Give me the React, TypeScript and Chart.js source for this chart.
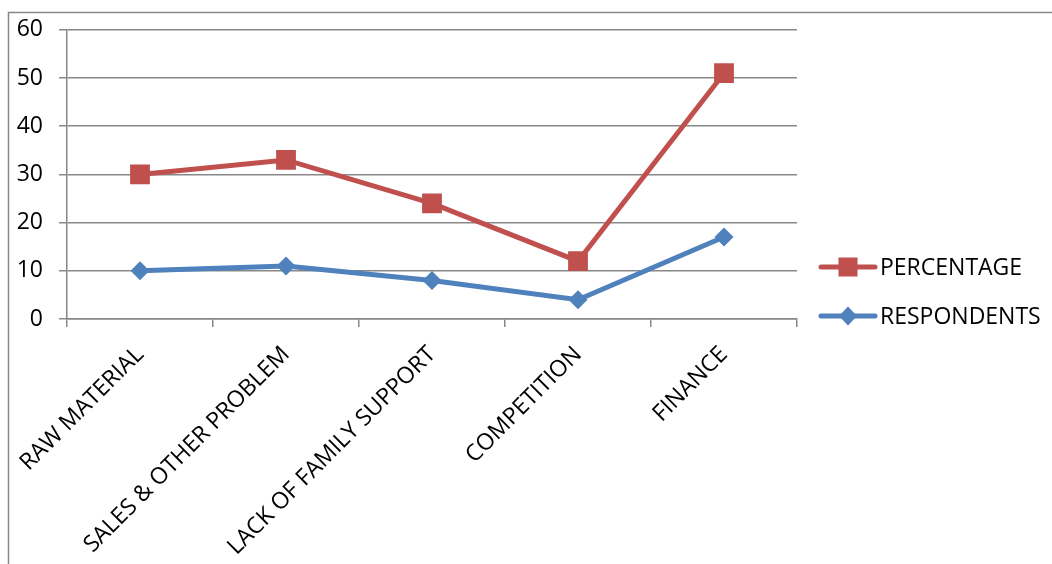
import React, { useEffect, useRef } from "react";
import { Chart, registerables } from "chart.js";

Chart.register(...registerables);

const categories = [
  "RAW MATERIAL",
  "SALES & OTHER PROBLEM",
  "LACK OF FAMILY SUPPORT",
  "COMPETITION",
  "FINANCE",
];
const percentage = [30, 33, 24, 12, 51];
const respondents = [10, 11, 8, 4, 17];
const yTicks = [0, 10, 20, 30, 40, 50, 60];

const RED = "#C0504D";
const BLUE = "#4F81BD";
const GRID = "#888888";
const FONT = "'Open Sans', sans-serif";

const frameAndLegend = {
  id: "frameAndLegend",
  beforeDraw(chart: any) {
    const ctx = chart.ctx;
    ctx.save();
    ctx.fillStyle = "#ffffff";
    ctx.fillRect(0, 0, chart.width, chart.height);
    ctx.strokeStyle = GRID;
    ctx.lineWidth = 1.5;
    ctx.beginPath();
    ctx.moveTo(8.5, chart.height + 2);
    ctx.lineTo(8.5, 12.5);
    ctx.lineTo(chart.width + 2, 12.5);
    ctx.stroke();
    ctx.restore();
  },
  afterDraw(chart: any) {
    const ctx = chart.ctx;
    const items = [
      { ds: chart.data.datasets[0], y: 267 },
      { ds: chart.data.datasets[1], y: 316 },
    ];
    ctx.save();
    for (const it of items) {
      const ds = it.ds;
      ctx.strokeStyle = ds.borderColor;
      ctx.lineWidth = 5;
      ctx.lineCap = "round";
      ctx.beginPath();
      ctx.moveTo(821, it.y);
      ctx.lineTo(875, it.y);
      ctx.stroke();
      ctx.fillStyle = ds.borderColor;
      if (ds.pointStyle === "rect") {
        ctx.fillRect(848 - 9.5, it.y - 9.5, 19, 19);
      } else {
        ctx.beginPath();
        ctx.moveTo(848, it.y - 9.5);
        ctx.lineTo(857, it.y);
        ctx.lineTo(848, it.y + 9.5);
        ctx.lineTo(839, it.y);
        ctx.closePath();
        ctx.fill();
      }
      ctx.fillStyle = "#000000";
      ctx.font = "23px " + FONT;
      ctx.textBaseline = "middle";
      ctx.textAlign = "left";
      ctx.fillText(ds.label, 880, it.y + 1);
    }
    ctx.restore();
  },
};

export default function App() {
  const ref = useRef<HTMLCanvasElement>(null);

  useEffect(() => {
    const canvas = ref.current!;
    const chart = new Chart(canvas, {
      type: "line",
      data: {
        labels: categories,
        datasets: [
          {
            label: "PERCENTAGE",
            data: percentage,
            borderColor: RED,
            backgroundColor: RED,
            borderWidth: 5,
            pointStyle: "rect",
            pointRadius: 14,
            pointBorderWidth: 0,
            pointBackgroundColor: RED,
            tension: 0,
          },
          {
            label: "RESPONDENTS",
            data: respondents,
            borderColor: BLUE,
            backgroundColor: BLUE,
            borderWidth: 5,
            pointStyle: "rectRot",
            pointRadius: 9.5,
            pointBorderWidth: 0,
            pointBackgroundColor: BLUE,
            tension: 0,
          },
        ],
      },
      options: {
        responsive: false,
        animation: false,
        devicePixelRatio: 1,
        layout: { padding: { top: 28, right: 255, left: 0, bottom: 0 } },
        plugins: {
          legend: { display: false },
          tooltip: { enabled: false },
        },
        scales: {
          x: {
            type: "category",
            offset: true,
            grid: {
              offset: true,
              drawOnChartArea: false,
              drawTicks: true,
              tickLength: 8,
              color: GRID,
              lineWidth: 1.5,
            },
            border: { color: GRID, width: 1.5 },
            ticks: {
              autoSkip: false,
              maxRotation: 45,
              minRotation: 45,
              padding: 14,
              color: "#000000",
              font: { family: FONT, size: 23 },
            },
            afterFit(scale: any) {
              scale.height = 564 - 319;
            },
          },
          y: {
            min: 0,
            max: 60,
            afterBuildTicks(scale: any) {
              scale.ticks = yTicks.map((v) => ({ value: v }));
            },
            grid: {
              color: GRID,
              lineWidth: 1.5,
              tickLength: 8,
            },
            border: { color: GRID, width: 1.5 },
            ticks: {
              padding: 16,
              color: "#000000",
              font: { family: FONT, size: 23 },
            },
            afterFit(scale: any) {
              scale.width = 67;
            },
          },
        },
      },
      plugins: [frameAndLegend],
    } as any);
    return () => chart.destroy();
  }, []);

  return (
    <div style={{ position: "fixed", left: 0, top: 0, width: 1052, height: 564, background: "#fff" }}>
      <canvas ref={ref} width={1052} height={564} style={{ display: "block", width: 1052, height: 564 }} />
    </div>
  );
}
